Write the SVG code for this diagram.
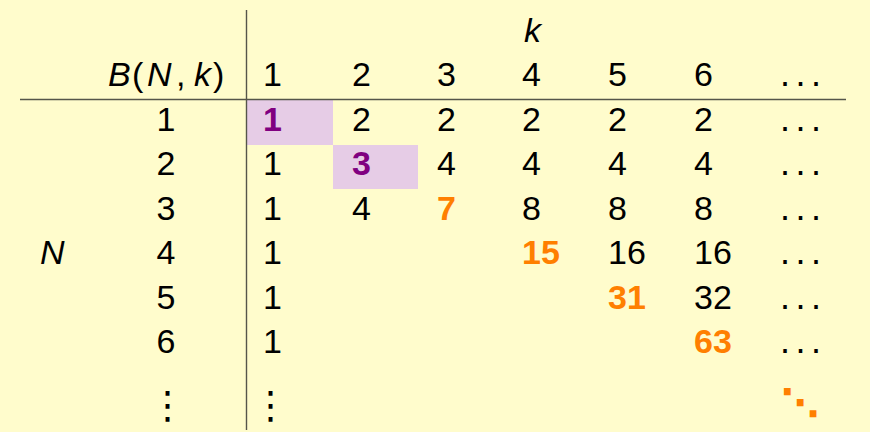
<svg xmlns="http://www.w3.org/2000/svg" width="870" height="432" viewBox="0 0 870 432">
<style>
text{font-family:"Liberation Sans",Arial,sans-serif;font-size:34px;fill:#000}
.i{font-style:italic}
.c{text-anchor:middle}
.p{fill:#800080;font-weight:bold}
.o{fill:#ff7f00;font-weight:bold}
.d{font-size:36px;letter-spacing:5.5px}
.v{font-family:"DejaVu Sans",sans-serif;font-size:38px;text-anchor:middle}
.dd{font-family:"DejaVu Sans",sans-serif;fill:#ff7f00;font-weight:bold;font-size:38px;text-anchor:middle}
.rule{stroke:#55554a;stroke-width:1.4;fill:none}
.hl{fill:#e6cce6}
</style>
<rect width="870" height="432" fill="#fffccc"/>
<g id="highlights">
<rect class="hl" x="247" y="100" width="86" height="45"/>
<rect class="hl" x="333" y="145" width="85" height="44"/>
</g>
<g id="rules">
<line class="rule" x1="246.5" y1="10" x2="246.5" y2="430"/>
<line class="rule" x1="20" y1="99.5" x2="846" y2="99.5"/>
</g>
<g id="axis-labels">
<text class="i" x="524" y="42">k</text>
<text class="i" x="40" y="264">N</text>
</g>
<g id="corner">
<text y="86"><tspan class="i" x="108">B</tspan><tspan x="132">(</tspan><tspan class="i" x="147">N</tspan><tspan x="176">,</tspan><tspan class="i" x="194">k</tspan><tspan x="213">)</tspan></text>
</g>
<g id="header">
<text x="263" y="86">1</text><text x="352" y="86">2</text><text x="437" y="86">3</text><text x="522" y="86">4</text><text x="608" y="86">5</text><text x="694" y="86">6</text><text class="d" x="780" y="86">...</text>
</g>
<g id="row-labels">
<text class="c" x="166" y="131">1</text>
<text class="c" x="166" y="175">2</text>
<text class="c" x="166" y="220">3</text>
<text class="c" x="166" y="264">4</text>
<text class="c" x="166" y="309">5</text>
<text class="c" x="166" y="353">6</text>
<text class="v" x="167.5" y="418">⋮</text>
</g>
<g id="row1">
<text class="p" x="263" y="131">1</text><text x="352" y="131">2</text><text x="437" y="131">2</text><text x="522" y="131">2</text><text x="608" y="131">2</text><text x="694" y="131">2</text><text class="d" x="780" y="131">...</text>
</g>
<g id="row2">
<text x="263" y="175">1</text><text class="p" x="352" y="175">3</text><text x="437" y="175">4</text><text x="522" y="175">4</text><text x="608" y="175">4</text><text x="694" y="175">4</text><text class="d" x="780" y="175">...</text>
</g>
<g id="row3">
<text x="263" y="220">1</text><text x="352" y="220">4</text><text class="o" x="437" y="220">7</text><text x="522" y="220">8</text><text x="608" y="220">8</text><text x="694" y="220">8</text><text class="d" x="780" y="220">...</text>
</g>
<g id="row4">
<text x="263" y="264">1</text><text class="o" x="522" y="264">15</text><text x="608" y="264">16</text><text x="694" y="264">16</text><text class="d" x="780" y="264">...</text>
</g>
<g id="row5">
<text x="263" y="309">1</text><text class="o" x="608" y="309">31</text><text x="694" y="309">32</text><text class="d" x="780" y="309">...</text>
</g>
<g id="row6">
<text x="263" y="353">1</text><text class="o" x="694" y="353">63</text><text class="d" x="780" y="353">...</text>
</g>
<g id="row-dots">
<text class="v" x="270.5" y="418">⋮</text>
<text class="dd" x="800" y="416">⋱</text>
</g>
</svg>
